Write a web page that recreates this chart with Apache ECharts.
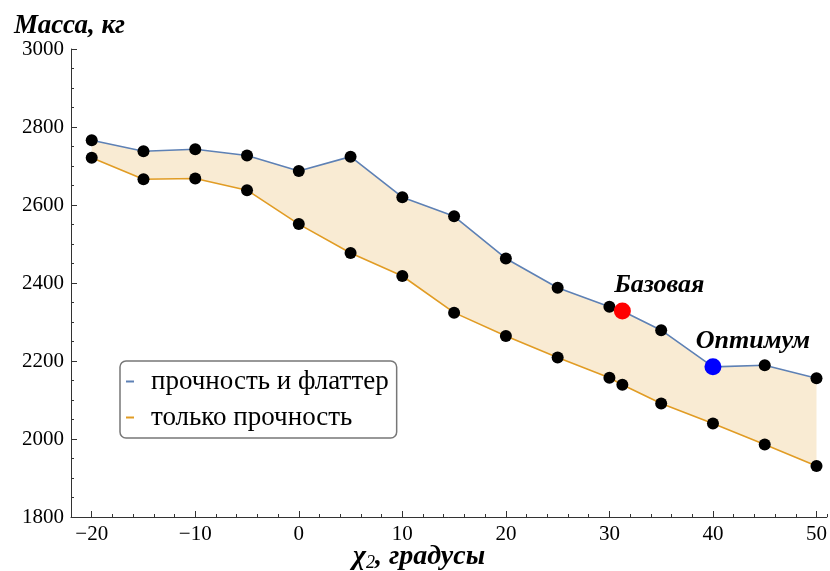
<!DOCTYPE html>
<html><head><meta charset="utf-8">
<script src="https://cdn.jsdelivr.net/npm/echarts@6/dist/echarts.min.js"></script>
<style>html,body{margin:0;padding:0;background:#fff}#c{width:830px;height:571px}</style>
</head><body><div id="c"></div>
<script>
// ---- data ----
const xValues = [-20, -15, -10, -5, 0, 5, 10, 15, 20, 25, 30, 31.25, 35, 40, 45, 50];
const flutterMass = [2766, 2738, 2743, 2727, 2687, 2724, 2620, 2571, 2463, 2388, 2339, 2328, 2279, 2185, 2189, 2156];
const strengthMass = [2721, 2666, 2668, 2638, 2551, 2477, 2418, 2324, 2264, 2209, 2157, 2139, 2091, 2040, 1986, 1931];
const basePoint = [31.25, 2328];
const optPoint = [40, 2185];
const xTicks = [-20, -10, 0, 10, 20, 30, 40, 50];
const seriesNames = ['прочность и флаттер', 'только прочность'];
const baseLabel = 'Базовая';
const optLabel = 'Оптимум';
const yTitle = 'Масса, кг';

const SERIF = "'Liberation Serif', 'Times New Roman', serif";
const BLUE = '#5E81B5', ORANGE = '#E19C24', FILL = '#F9EBD3', AX = '#333';

const flutterPairs = xValues.map((x, i) => [x, flutterMass[i]]);
const strengthPairs = xValues.map((x, i) => [x, strengthMass[i]]);

const chart = echarts.init(document.getElementById('c'), null, {renderer: 'canvas'});
const annotLabel = (txt, off) => ({
  show: true, position: 'top', distance: 4, offset: off,
  formatter: txt, fontFamily: SERIF, fontStyle: 'italic', fontWeight: 'bold',
  fontSize: 26, color: '#000'
});

chart.setOption({
  animation: false,
  grid: {left: 71, right: 0, top: 49, bottom: 54, containLabel: false},
  xAxis: [{
    type: 'value', min: -22, max: 51, interval: 2, position: 'bottom',
    axisLine: {show: true, onZero: false, lineStyle: {color: AX, width: 1}},
    axisTick: {show: true, inside: true, length: 3, lineStyle: {color: AX}},
    axisLabel: {show: false}, splitLine: {show: false}
  }, {
    type: 'value', min: -22, max: 51, position: 'bottom',
    axisLine: {show: false, onZero: false},
    axisTick: {show: true, inside: true, length: 6, customValues: xTicks, lineStyle: {color: AX}},
    axisLabel: {show: true, customValues: xTicks, margin: 7, fontFamily: SERIF, fontSize: 21, color: '#000',
      formatter: v => (v < 0 ? '\u2212' + Math.abs(v) : String(v))},
    splitLine: {show: false}
  }],
  yAxis: {
    type: 'value', min: 1800, max: 3000, interval: 200,
    axisLine: {show: true, onZero: false, lineStyle: {color: AX, width: 1}},
    axisTick: {show: true, inside: true, length: 6, lineStyle: {color: AX}},
    minorTick: {show: true, splitNumber: 4, length: 3, lineStyle: {color: AX}},
    axisLabel: {margin: 7, fontFamily: SERIF, fontSize: 21, color: '#000', formatter: v => String(v)},
    splitLine: {show: false}
  },
  legend: {
    orient: 'vertical', left: 120, top: 361,
    data: seriesNames,
    icon: 'rect', itemWidth: 8, itemHeight: 2, itemGap: 9,
    backgroundColor: '#fff', borderColor: '#777', borderWidth: 1.5, borderRadius: 6,
    padding: [7, 8, 7, 6],
    itemStyle: {borderWidth: 0},
    textStyle: {fontFamily: SERIF, fontSize: 27, color: '#000', padding: [0, 0, 0, 12]}
  },
  graphic: [{
    type: 'text', left: 14, top: 13,
    style: {text: yTitle, font: "italic bold 27px " + SERIF, fill: '#000'}
  }, {
    type: 'text', left: 353, top: 543,
    style: {
      text: '{c|χ}{s|2}{t|, градусы}',
      rich: {
        c: {fontFamily: SERIF, fontStyle: 'italic', fontWeight: 'bold', fontSize: 28, lineHeight: 30, fill: '#000'},
        s: {fontFamily: SERIF, fontStyle: 'italic', fontSize: 18, lineHeight: 16, verticalAlign: 'bottom', fill: '#000'},
        t: {fontFamily: SERIF, fontStyle: 'italic', fontWeight: 'bold', fontSize: 28, lineHeight: 30, fill: '#000'}
      }
    }
  }],
  series: [{
    type: 'custom', silent: true, z: 1, xAxisIndex: 0,
    data: [flutterPairs[0]],
    renderItem: (params, api) => {
      const pts = [];
      for (let i = 0; i < xValues.length; i++) pts.push(api.coord([xValues[i], flutterMass[i]]));
      for (let i = xValues.length - 1; i >= 0; i--) pts.push(api.coord([xValues[i], strengthMass[i]]));
      return {type: 'polygon', shape: {points: pts}, style: {fill: FILL}};
    }
  }, {
    type: 'line', name: seriesNames[0], xAxisIndex: 0, z: 2,
    data: flutterPairs, showSymbol: false, symbol: 'none', color: BLUE,
    lineStyle: {color: BLUE, width: 1.6}
  }, {
    type: 'line', name: seriesNames[1], xAxisIndex: 0, z: 2,
    data: strengthPairs, showSymbol: false, symbol: 'none', color: ORANGE,
    lineStyle: {color: ORANGE, width: 1.6}
  }, {
    type: 'scatter', xAxisIndex: 0, z: 3, symbol: 'circle', symbolSize: 12,
    itemStyle: {color: '#000', opacity: 1}, data: flutterPairs.concat(strengthPairs)
  }, {
    type: 'scatter', xAxisIndex: 0, z: 4, symbol: 'circle', symbolSize: 17,
    itemStyle: {color: '#FF0000', opacity: 1}, data: [basePoint],
    label: annotLabel(baseLabel, [37, 0])
  }, {
    type: 'scatter', xAxisIndex: 0, z: 4, symbol: 'circle', symbolSize: 17,
    itemStyle: {color: '#0000FF', opacity: 1}, data: [optPoint],
    label: annotLabel(optLabel, [40, 0])
  }]
});
</script></body></html>
